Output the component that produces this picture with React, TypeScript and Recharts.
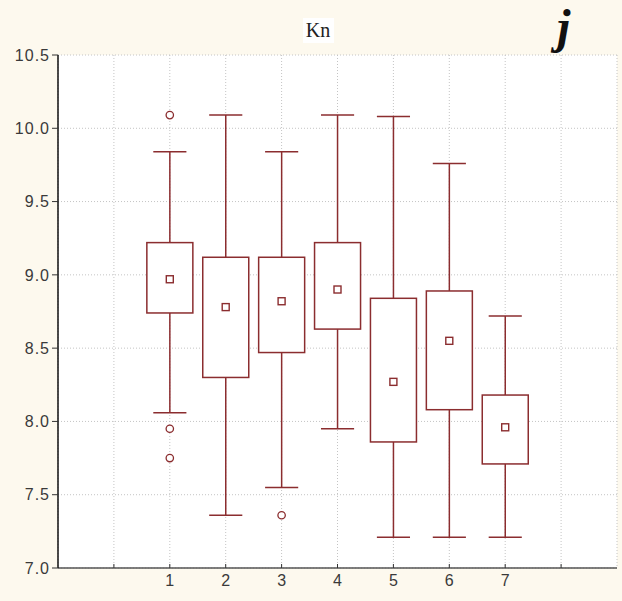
import React from "react";
import {
  ComposedChart,
  Bar,
  Scatter,
  XAxis,
  YAxis,
  CartesianGrid,
} from "recharts";

// Box-plot summary per group
const CATEGORIES = [1, 2, 3, 4, 5, 6, 7];
const WHISKER_LOW = [8.06, 7.36, 7.55, 7.95, 7.21, 7.21, 7.21];
const Q1 = [8.74, 8.3, 8.47, 8.63, 7.86, 8.08, 7.71];
const MEANS = [8.97, 8.78, 8.82, 8.9, 8.27, 8.55, 7.96];
const Q3 = [9.22, 9.12, 9.12, 9.22, 8.84, 8.89, 8.18];
const WHISKER_HIGH = [9.84, 10.09, 9.84, 10.09, 10.08, 9.76, 8.72];

// Outlying observations
const OUTLIER_X = [1, 1, 1, 3];
const OUTLIER_Y = [10.09, 7.95, 7.75, 7.36];

const X_TICKS = [0, 1, 2, 3, 4, 5, 6, 7, 8];
const Y_TICKS = [7.0, 7.5, 8.0, 8.5, 9.0, 9.5, 10.0, 10.5];

const TITLE = "Kn";
const PANEL = "j";

const BOX_COLOR = "#8b2d2f";
const BG = "#fdf9ee";

const boxRows = CATEGORIES.map((c, i) => ({
  x: c,
  range: [WHISKER_LOW[i], WHISKER_HIGH[i]],
  q1: Q1[i],
  q3: Q3[i],
}));

const meanRows = CATEGORIES.map((c, i) => ({ x: c, y: MEANS[i] }));
const outlierRows = OUTLIER_X.map((c, i) => ({ x: c, y: OUTLIER_Y[i] }));

// Whiskers + box drawn inside the pixel span the bar gives for [low, high]
function BoxShape(props: any) {
  const { x, y, width, height, payload } = props;
  const [lo, hi] = payload.range;
  const k = height / (hi - lo);
  const yOf = (v: number) => y + (hi - v) * k;
  const cx = x + width / 2;
  const cap = width * 0.36;
  const yTop = yOf(payload.q3);
  const yBot = yOf(payload.q1);
  return (
    <g stroke={BOX_COLOR} strokeWidth={1.5} fill="none">
      <line x1={cx} x2={cx} y1={y} y2={yTop} />
      <line x1={cx} x2={cx} y1={yBot} y2={y + height} />
      <line x1={cx - cap} x2={cx + cap} y1={y} y2={y} />
      <line x1={cx - cap} x2={cx + cap} y1={y + height} y2={y + height} />
      <rect x={x} y={yTop} width={width} height={yBot - yTop} fill="#fff" />
    </g>
  );
}

function MeanShape(props: any) {
  const { cx, cy } = props;
  return (
    <rect
      x={cx - 3.5}
      y={cy - 3.5}
      width={7}
      height={7}
      fill="#fff"
      stroke={BOX_COLOR}
      strokeWidth={1.4}
    />
  );
}

function OutlierShape(props: any) {
  const { cx, cy } = props;
  return (
    <circle cx={cx} cy={cy} r={3.7} fill="#fff" stroke={BOX_COLOR} strokeWidth={1.3} />
  );
}

function BottomTick(props: any) {
  const { x, y, payload } = props;
  const v = payload.value;
  const show = v >= 1 && v <= 7;
  return (
    <g>
      <line x1={x} x2={x} y1={y} y2={y - 4} stroke="#333" strokeWidth={1} />
      {show && (
        <text
          x={x}
          y={y + 18}
          textAnchor="middle"
          fontFamily="'Liberation Sans', Arial, sans-serif"
          fontSize={16}
          fill="#3a3a3a"
        >
          {v}
        </text>
      )}
    </g>
  );
}

function TopTick(props: any) {
  const { x, y } = props;
  return <line x1={x} x2={x} y1={y} y2={y + 4} stroke="#333" strokeWidth={1} />;
}

function RightTick(props: any) {
  const { x, y } = props;
  return <line x1={x} x2={x - 4} y1={y} y2={y} stroke="#333" strokeWidth={1} />;
}

export default function App() {
  return (
    <div
      style={{
        position: "absolute",
        left: 0,
        top: 0,
        width: 622,
        height: 601,
        background: BG,
      }}
    >
      <ComposedChart
        width={622}
        height={601}
        data={boxRows}
        margin={{ top: 55, right: 5, bottom: 0, left: 0 }}
      >
        <CartesianGrid
          xAxisId="bottom"
          yAxisId="left"
          fill="#fff"
          stroke="#c4c4c4"
          strokeDasharray="1 2"
        />
        <XAxis
          xAxisId="bottom"
          dataKey="x"
          type="number"
          domain={[-1, 9]}
          ticks={X_TICKS}
          interval={0}
          height={33}
          tickSize={0}
          tickMargin={0}
          tickLine={false}
          axisLine={{ stroke: "#555", strokeWidth: 1.5 }}
          tick={<BottomTick />}
        />
        <XAxis
          xAxisId="top"
          orientation="top"
          dataKey="x"
          type="number"
          domain={[-1, 9]}
          ticks={X_TICKS}
          interval={0}
          height={0}
          tickSize={0}
          tickMargin={0}
          tickLine={false}
          axisLine={{ stroke: "#222", strokeWidth: 1.5 }}
          tick={<TopTick />}
        />
        <YAxis
          yAxisId="left"
          type="number"
          domain={[7, 10.5]}
          ticks={Y_TICKS}
          interval={0}
          width={58}
          tickSize={6}
          tickMargin={2}
          tickLine={{ stroke: "#333" }}
          axisLine={{ stroke: "#111", strokeWidth: 1.5 }}
          tickFormatter={(v: number) => v.toFixed(1)}
          tick={{
            fontFamily: "'Liberation Sans', Arial, sans-serif",
            fontSize: 16,
            fill: "#3a3a3a",
            letterSpacing: 1,
          }}
        />
        <YAxis
          yAxisId="right"
          orientation="right"
          type="number"
          domain={[7, 10.5]}
          ticks={Y_TICKS}
          interval={0}
          width={0}
          tickSize={0}
          tickMargin={0}
          tickLine={false}
          axisLine={{ stroke: "#444", strokeWidth: 1.5 }}
          tick={<RightTick />}
        />
        <Bar
          xAxisId="bottom"
          yAxisId="left"
          dataKey="range"
          barSize={46}
          shape={<BoxShape />}
          isAnimationActive={false}
        />
        <Scatter
          xAxisId="bottom"
          yAxisId="left"
          data={meanRows}
          dataKey="y"
          shape={<MeanShape />}
          isAnimationActive={false}
        />
        <Scatter
          xAxisId="bottom"
          yAxisId="left"
          data={outlierRows}
          dataKey="y"
          shape={<OutlierShape />}
          isAnimationActive={false}
        />
      </ComposedChart>
      <svg
        width={622}
        height={601}
        style={{ position: "absolute", left: 0, top: 0, pointerEvents: "none" }}
      >
        <rect x={303} y={18} width={31} height={25} fill="#ffffff" />
        <text
          x={318}
          y={37}
          textAnchor="middle"
          fontFamily="'Liberation Serif', 'Times New Roman', serif"
          fontSize={20}
          fill="#222"
        >
          {TITLE}
        </text>
        <text
          x={557}
          y={43}
          fontFamily="'Liberation Serif', 'Times New Roman', serif"
          fontSize={48}
          fontWeight="bold"
          fontStyle="italic"
          fill="#111"
        >
          {PANEL}
        </text>
      </svg>
    </div>
  );
}
